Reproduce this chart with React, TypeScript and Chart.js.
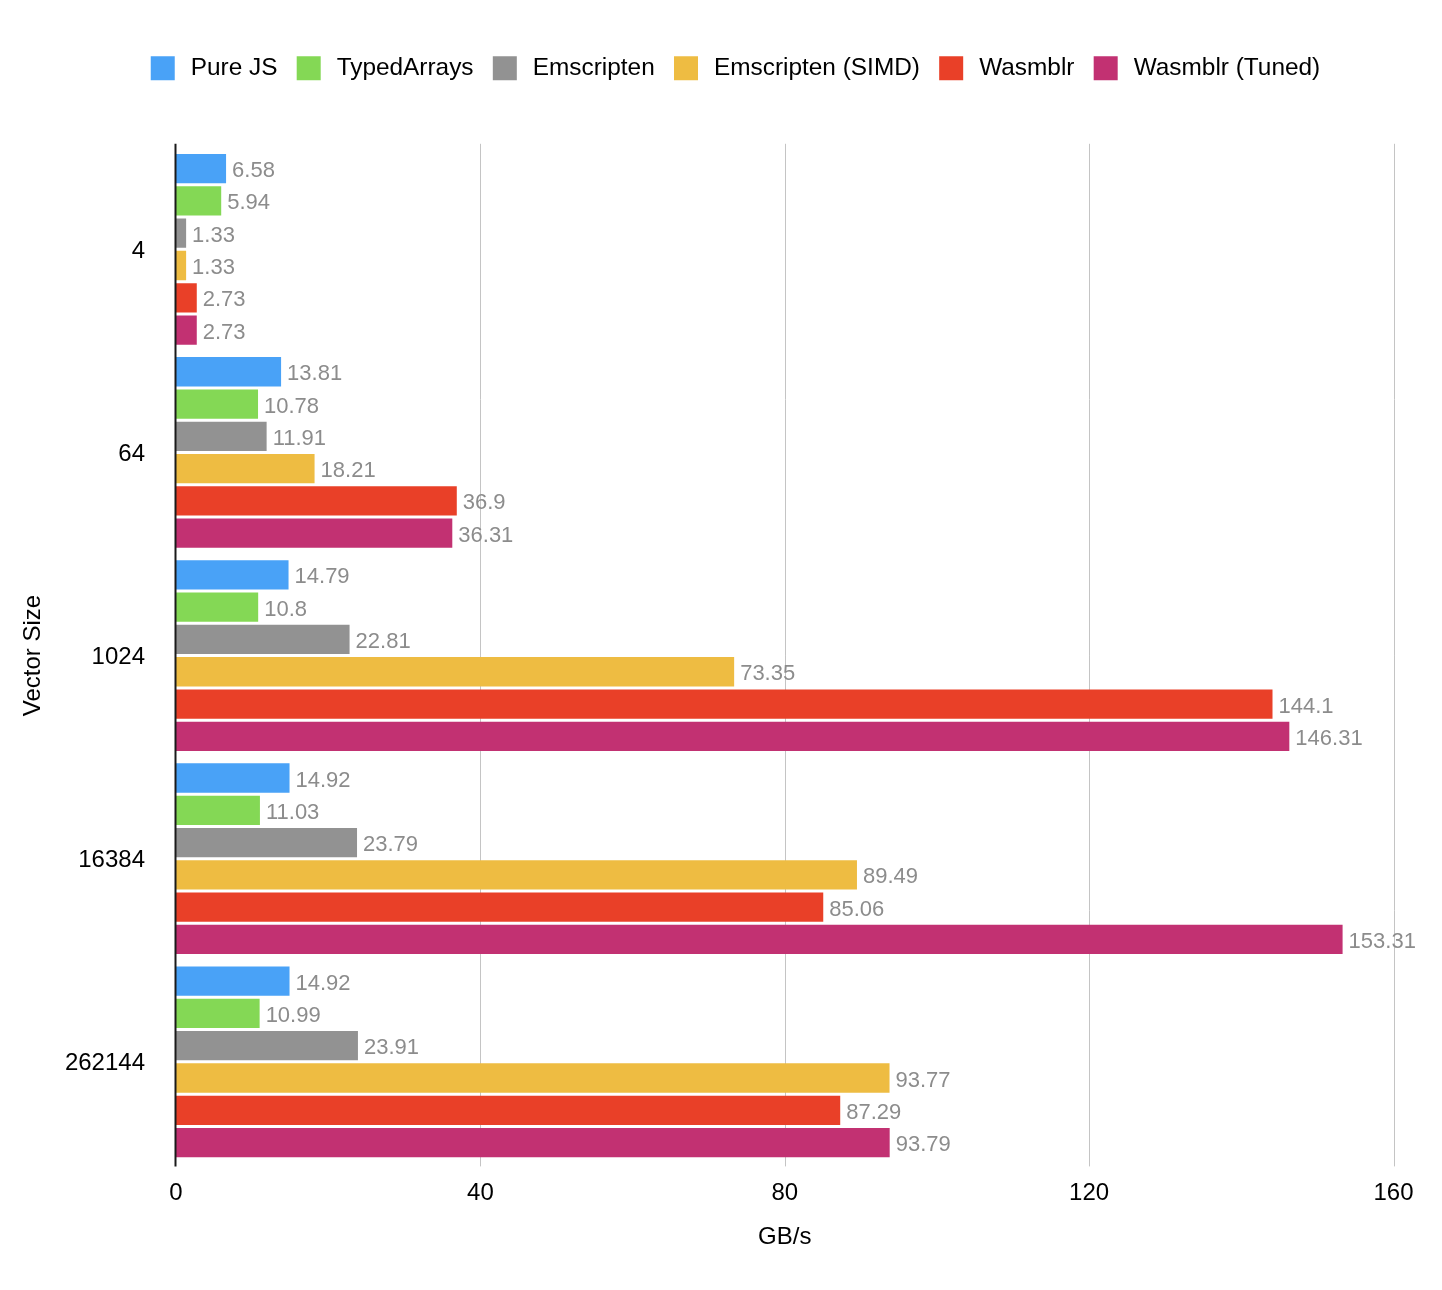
import React, { useEffect, useRef } from 'react';
import { Chart, registerables } from 'chart.js';

Chart.register(...registerables);

const categories = ['4', '64', '1024', '16384', '262144'];
const seriesNames = ['Pure JS', 'TypedArrays', 'Emscripten', 'Emscripten (SIMD)', 'Wasmblr', 'Wasmblr (Tuned)'];
const pureJS = [6.58, 13.81, 14.79, 14.92, 14.92];
const typedArrays = [5.94, 10.78, 10.8, 11.03, 10.99];
const emscripten = [1.33, 11.91, 22.81, 23.79, 23.91];
const emscriptenSIMD = [1.33, 18.21, 73.35, 89.49, 93.77];
const wasmblr = [2.73, 36.9, 144.1, 85.06, 87.29];
const wasmblrTuned = [2.73, 36.31, 146.31, 153.31, 93.79];
const seriesColors = ['#49A2F7', '#84D855', '#929292', '#EEBC42', '#E94028', '#C23172'];
const xTicks = [0, 40, 80, 120, 160];
const xTitle = 'GB/s';
const yTitle = 'Vector Size';

const FAMILY = '"Liberation Sans", Arial, Helvetica, sans-serif';

const LEGEND_TOP = 37;
const LEGEND_CENTER = 733.6;
const CHART_TOP = 147.8;
const CHART_BOTTOM = 1163.4;

const valueLabels = {
  id: 'valueLabels',
  afterDatasetsDraw(chart: any) {
    const ctx = chart.ctx;
    ctx.save();
    ctx.font = `22px ${FAMILY}`;
    ctx.fillStyle = '#8c8c8c';
    ctx.textAlign = 'left';
    ctx.textBaseline = 'middle';
    chart.data.datasets.forEach((ds: any, di: number) => {
      const meta = chart.getDatasetMeta(di);
      meta.data.forEach((el: any, i: number) => {
        ctx.fillText(String(ds.data[i]), el.x + 6, el.y + 2.5);
      });
    });
    ctx.restore();
  },
};

// vertical grid lines and the value axis line, a little taller than the plot area
const axisLines = {
  id: 'axisLines',
  beforeDatasetsDraw(chart: any) {
    const { ctx, chartArea, scales } = chart;
    const x = scales.x;
    const top = chartArea.top - 4;
    const bottom = chartArea.bottom + 3;
    ctx.save();
    ctx.strokeStyle = '#c4c4c4';
    ctx.lineWidth = 1;
    xTicks.forEach((v) => {
      if (v === 0) return;
      const px = Math.round(x.getPixelForValue(v)) + 0.5;
      ctx.beginPath();
      ctx.moveTo(px, top);
      ctx.lineTo(px, bottom);
      ctx.stroke();
    });
    ctx.restore();
  },
  afterDatasetsDraw(chart: any) {
    const { ctx, chartArea, scales } = chart;
    const x = scales.x;
    const top = chartArea.top - 4;
    const bottom = chartArea.bottom + 3;
    const px = x.getPixelForValue(0) - 0.5;
    ctx.save();
    ctx.strokeStyle = '#1a1a1a';
    ctx.lineWidth = 2;
    ctx.beginPath();
    ctx.moveTo(px, top);
    ctx.lineTo(px, bottom);
    ctx.stroke();
    ctx.restore();
  },
};

const legendTweak = {
  id: 'legendTweak',
  beforeInit(chart: any) {
    const legend = chart.legend;
    if (!legend) return;
    const origFit = legend.fit;
    legend.fit = function () {
      origFit.call(this);
      this.height = CHART_TOP - LEGEND_TOP;
    };
  },
  afterLayout(chart: any) {
    const legend = chart.legend;
    if (!legend) return;
    const c = (legend.left + legend.right) / 2;
    const shift = LEGEND_CENTER - c;
    legend.left += shift;
    legend.right += shift;
  },
};

export default function App() {
  const ref = useRef<HTMLCanvasElement | null>(null);

  useEffect(() => {
    if (!ref.current) return;
    const seriesValues = [pureJS, typedArrays, emscripten, emscriptenSIMD, wasmblr, wasmblrTuned];
    const defaultGenerate = (Chart as any).defaults.plugins.legend.labels.generateLabels;
    const chart = new Chart(ref.current, {
      type: 'bar',
      data: {
        labels: categories,
        datasets: seriesNames.map((name, i) => ({
          label: name,
          data: seriesValues[i],
          backgroundColor: seriesColors[i],
          borderWidth: 0,
          categoryPercentage: 0.954,
          barPercentage: 0.907,
        })),
      },
      options: {
        indexAxis: 'y',
        responsive: false,
        animation: false,
        devicePixelRatio: 1,
        layout: { padding: { top: LEGEND_TOP, left: 0, right: 48.5, bottom: 0 } },
        plugins: {
          legend: {
            position: 'top',
            labels: {
              boxWidth: 31.5,
              boxHeight: 31.5,
              padding: 15.5,
              color: '#000',
              font: { size: 24.4, family: FAMILY },
              generateLabels: (c: any) =>
                defaultGenerate(c).map((item: any) => ({
                  ...item,
                  strokeStyle: '#ffffff',
                  lineWidth: 7.5,
                })),
            },
          },
          tooltip: { enabled: false },
        },
        scales: {
          x: {
            type: 'linear',
            min: 0,
            max: 160,
            afterBuildTicks: (scale: any) => {
              scale.ticks = xTicks.map((v) => ({ value: v }));
            },
            afterFit: (scale: any) => {
              scale.height = 1290 - CHART_BOTTOM;
            },
            grid: { display: false, drawTicks: false },
            border: { display: false },
            ticks: { padding: 16, color: '#000', font: { size: 24, family: FAMILY } },
            title: {
              display: true,
              text: xTitle,
              color: '#000',
              font: { size: 24, family: FAMILY },
              padding: { top: 0, bottom: 38 },
            },
          },
          y: {
            type: 'category',
            afterFit: (scale: any) => {
              scale.width = 176;
            },
            grid: { display: false, drawTicks: false },
            border: { display: false },
            ticks: { padding: 31, labelOffset: 2, color: '#000', font: { size: 24, family: FAMILY } },
            title: {
              display: true,
              text: yTitle,
              color: '#000',
              font: { size: 24, family: FAMILY },
              padding: { top: 19, bottom: 0 },
            },
          },
        },
      },
      plugins: [axisLines, valueLabels, legendTweak],
    } as any);
    return () => chart.destroy();
  }, []);

  return (
    <div style={{ position: 'absolute', left: 0, top: 0, width: 1442, height: 1290, background: '#fff' }}>
      <canvas ref={ref} width={1442} height={1290} style={{ display: 'block' }} />
    </div>
  );
}
